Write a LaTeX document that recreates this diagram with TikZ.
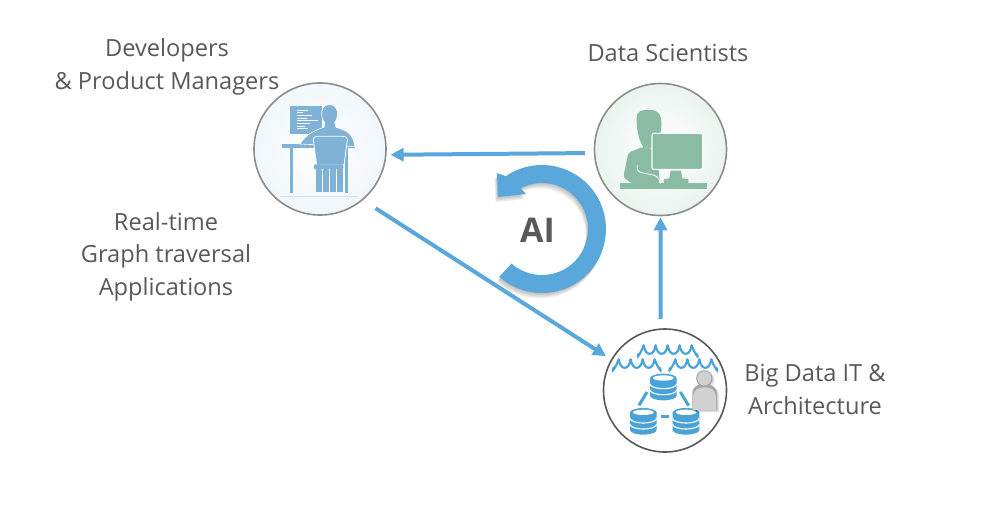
\documentclass[tikz,border=0pt]{standalone}
\usepackage{fontspec}
\setmainfont{Open Sans}
\usetikzlibrary{arrows.meta}
\definecolor{flowblue}{HTML}{5AA7DB}
\definecolor{txtgray}{HTML}{595959}
\definecolor{devblue}{HTML}{80B2D7}
\definecolor{dsgreen}{HTML}{8ABBA4}
\definecolor{dbblue}{HTML}{4AA3D6}
\tikzset{
  lbl/.style={text=txtgray,font=\fontsize{23.6}{28}\selectfont,inner sep=0pt,anchor=base},
  flow/.style={draw=flowblue,line width=4pt,-{Triangle[width=13pt,length=13pt]}},
  rolecircle/.style={circle,inner sep=0pt,line width=1.6pt},
  wave/.style={draw=dbblue,line width=2.2pt,line cap=round},
  dbgap/.style={draw=white,line width=1.1pt}
}
\newcommand{\aishape}[1]{\fill[#1] (499.3,276.7) arc[start angle=131.8,end angle=-124.4,radius=64]
  -- (497,173) -- (498,197) -- (526,194) -- (520.4,188.4)
  arc[start angle=-118,end angle=131.4,radius=46] -- cycle;}
\newcommand{\wavesrow}[3]{\foreach \k in {1,...,#3}{
  \draw[wave] ({#1+(\k-1)*36},#2) .. controls ({#1+(\k-1)*36+5},{#2+34}) and ({#1+(\k-1)*36+31},{#2+34}) .. ({#1+\k*36},#2);}
  \draw[wave] (#1,#2) .. controls ++(-4,14) and ++(-8,22) .. ++(-16,26);
  \draw[wave] ({#1+#3*36},#2) .. controls ++(4,14) and ++(8,22) .. ++(16,26);}
\newcommand{\drum}[2]{
  \fill[dbblue] ({#1-40},#2) -- ({#1-40},{#2+52}) arc[start angle=180,end angle=0,x radius=40,y radius=14] -- ({#1+40},#2) -- cycle;
  \fill[dbblue] (#1,#2) ellipse[x radius=40,y radius=14];
  \fill[white] (#1,{#2-1}) ellipse[x radius=31,y radius=8];
  \draw[dbgap] ({#1-40},{#2+17}) arc[start angle=180,end angle=0,x radius=40,y radius=14];
  \draw[dbgap] ({#1-40},{#2+35}) arc[start angle=180,end angle=0,x radius=40,y radius=14];}
\newcommand{\personbody}[1]{\fill[#1] (307,270) -- (307,222) .. controls (307,200) and (322,192) .. (343,192)
   .. controls (365,192) and (380,200) .. (380,222) -- (380,270) -- cycle;}
\begin{document}
\begin{tikzpicture}[x=1pt,y=-1pt]
\useasboundingbox (0,0) rectangle (985,507);
\fill[white] (0,0) rectangle (985,507);

% role circles
\node[rolecircle,minimum size=132pt,draw=black!45,inner color=white,outer color=devblue!11] (dev) at (320,149) {};
\node[rolecircle,minimum size=132pt,draw=black!45,inner color=white,outer color=dsgreen!17] (ds) at (660.5,149.5) {};
\node[rolecircle,minimum size=123pt,draw=txtgray,fill=white] (bd) at (665,390.5) {};

% developer icon
\begin{scope}[shift={(240,70)},scale=0.3333]
  \draw[devblue!35,line width=0.6pt] (120,380) -- (355,380);
  \fill[devblue] (150,108) rectangle (245,192);
  \foreach \yy/\xa in {122/205,128/190,136/215,144/200,152/235,160/210,168/195,175/205}
    \draw[white,line width=0.5pt] (170,\yy) -- (\xa,\yy);
  \fill[devblue] (127,222) rectangle (345,235);
  \fill[devblue] (150,235) rectangle (160,368);
  \fill[devblue] (315,235) rectangle (325,368);
  \fill[devblue,draw=white,line width=0.6pt] (180,222) .. controls (195,195) and (225,180) .. (252,172)
    -- (254,158) .. controls (240,140) and (240,104) .. (268,104)
    .. controls (296,104) and (298,140) .. (284,158) -- (288,172)
    .. controls (325,182) and (340,195) .. (345,230) -- cycle;
  \fill[devblue,draw=white,line width=0.8pt] (220,210) .. controls (220,200) and (228,199) .. (235,199)
    -- (305,199) .. controls (315,199) and (322,200) .. (322,210) -- (312,285) -- (230,285) -- cycle;
  \fill[devblue,rounded corners=1pt] (222,283) rectangle (310,298);
  \fill[devblue] (228,298) rectangle (310,366);
  \foreach \xx in {248,269,290} \draw[white,line width=0.5pt] (\xx,298) -- (\xx,366);
\end{scope}

% data scientist icon
\begin{scope}[shift={(580,70)},scale=0.3333]
  \fill[dsgreen] (120,340) rectangle (382,356);
  \fill[dsgreen] (170,150) .. controls (168,118) and (190,120) .. (207,120)
    .. controls (230,120) and (246,125) .. (244,170) .. controls (244,195) and (225,225) .. (215,235)
    -- (190,232) .. controls (180,215) and (170,190) .. (170,150) -- cycle;
  \fill[dsgreen,rounded corners=3pt] (130,322) -- (145,248) -- (190,230) -- (230,240) -- (240,340) -- (155,340) -- cycle;
  \draw[white,line width=0.8pt,rounded corners=3pt] (172,285) -- (172,305) -- (232,318) -- (242,340);
  \fill[dsgreen] (272,302) -- (303,302) -- (307,325) -- (325,328) -- (325,342) -- (252,342) -- (252,328) -- (268,325) -- cycle;
  \fill[dsgreen,draw=white,line width=1.1pt,rounded corners=2pt] (216,190) rectangle (368,298);
\end{scope}

% big data icon
\begin{scope}[shift={(590,320)},scale=0.3333]
  \wavesrow{161}{76}{4}
  \wavesrow{86}{118}{3}
  \wavesrow{256}{118}{3}
  \drum{220}{175}
  \drum{160}{278}
  \drum{288}{278}
  \draw[dbblue,line width=3pt] (147,256) -- (171,216);
  \draw[dbblue,line width=3pt] (271,216) -- (296,257);
  \draw[dbblue,line width=3pt] (214,291) -- (238,291);
  \foreach \i in {1,...,5}{
    \begin{scope}[shift={(\i*1.6,\i*1.6)}]
      \personbody{black,opacity=0.05}
      \fill[black,opacity=0.04] (343,175) circle[radius=24];
    \end{scope}}
  \personbody{black!35}
  \fill[black!18,draw=black!35,line width=1pt] (343,175) circle[radius=23];
  \begin{scope}[shift={(343.5,0)},xscale=0.93,yscale=1,shift={(-343.5,10)}]
    \clip (300,190) rectangle (390,258);
    \personbody{black!18}
  \end{scope}
\end{scope}

% connectors
\draw[flow,shorten <=9pt,shorten >=4pt] (ds.183) -- (dev.-5);
\draw[flow,shorten <=15pt,shorten >=6pt] (dev.-50) -- (bd.150);
\draw[flow,shorten <=9.5pt,shorten >=1pt] (bd.94) -- (ds.south);

% AI cycle arrow
\foreach \i in {1,...,5}{
  \begin{scope}[shift={(-0.5*\i,1.1*\i)}]
    \aishape{black,opacity=0.05}
  \end{scope}}
\aishape{flowblue}
\node[text=txtgray,font=\bfseries\fontsize{34}{34}\selectfont,inner sep=0pt,anchor=base] (ai) at (537.5,242) {AI};

% labels
\node[lbl] (devl1) at (167,56) {Developers};
\node[lbl] (devl2) at (167,89) {\& Product Managers};
\node[lbl] (dsl) at (668,61) {Data Scientists};
\node[lbl] (rt1) at (166,230) {Real-time};
\node[lbl] (rt2) at (166,262) {Graph traversal};
\node[lbl] (rt3) at (166,295) {Applications};
\node[lbl] (bdl1) at (815,381) {Big Data IT \&};
\node[lbl] (bdl2) at (815,414) {Architecture};
\end{tikzpicture}
\end{document}
